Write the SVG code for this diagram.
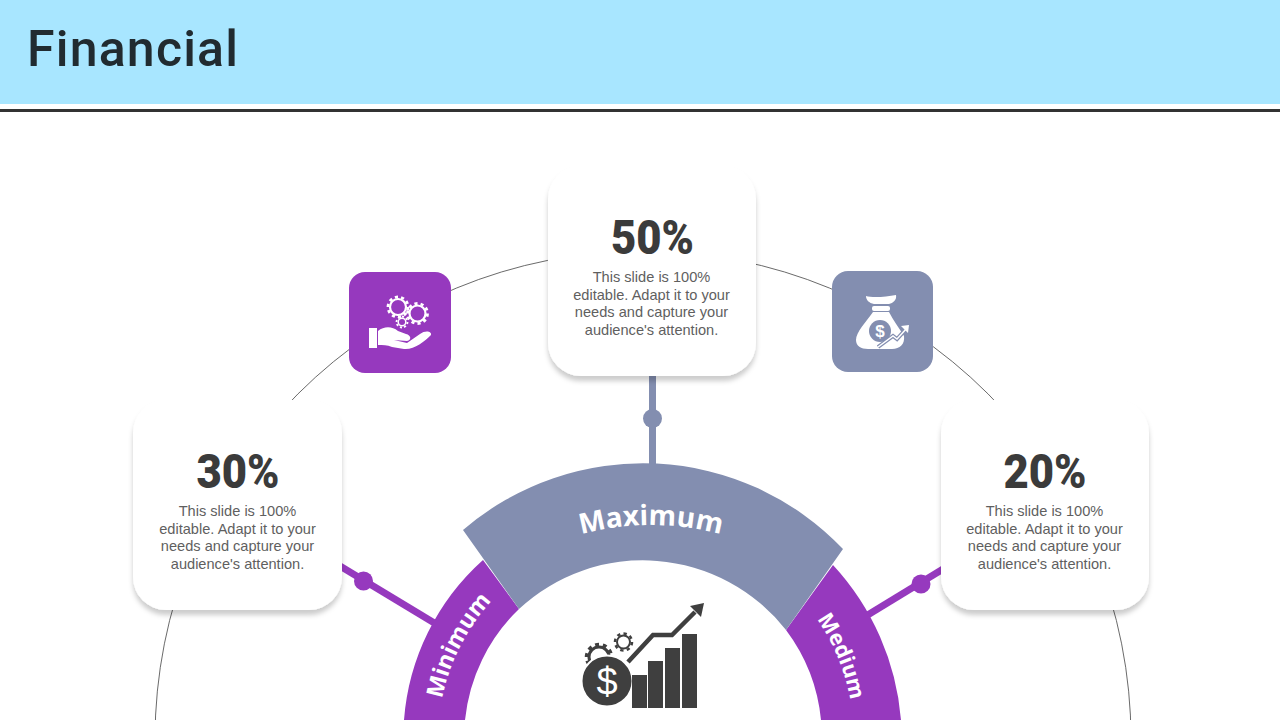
<svg xmlns="http://www.w3.org/2000/svg" width="1280" height="720" viewBox="0 0 1280 720">
<style>
.card{fill:#fff;filter:url(#sh)}
.pct{font-family:Roboto,"Liberation Sans",sans-serif;font-weight:900;font-size:48px;fill:#3b3b3b;text-anchor:middle}
.body{font-family:"Liberation Sans",Arial,sans-serif;font-size:14.6px;fill:#5f5f5f;text-anchor:middle}
.lab{font-family:"Open Sans","Noto Sans",sans-serif;font-weight:700;fill:#fff;text-anchor:middle}
.pur{fill:#9639BE}.gry{fill:#838EB0}
.gw{fill:none;stroke:#fff}.gd{fill:none;stroke:#3f3f3f}
</style>
<defs>
<filter id="sh" x="-15%" y="-15%" width="130%" height="130%"><feDropShadow dx="0" dy="5" stdDeviation="2.500" flood-color="#000" flood-opacity="0.2"/></filter>
<path id="pMax" d="M520 559A270 270 0 0 1 782 559"/>
<path id="pMin" d="M438.800 721.200A204 204 0 0 1 508.200 585"/>
<path id="pMed" d="M792 589A212 212 0 0 1 854 739"/>
</defs>
<g id="header">
<rect x="0" y="0" width="1280" height="104" fill="#A8E6FF"/>
<rect x="0" y="109" width="1280" height="3" fill="#333"/>
<text x="27" y="66" font-family="Roboto,sans-serif" font-size="50" font-weight="500" fill="#212B30" textLength="211" lengthAdjust="spacing">Financial</text>
</g>
<g id="connectors">
<circle cx="643" cy="739" r="488" fill="none" stroke="#444" stroke-width="0.8"/>
<path d="M652.500 370V470" stroke="#838EB0" stroke-width="7" fill="none"/>
<circle cx="652.500" cy="418.500" r="9.500" class="gry"/>
<path d="M335 563L436 624" stroke="#9639BE" stroke-width="7" fill="none"/>
<circle cx="363.500" cy="581" r="9.500" class="pur"/>
<path d="M866 616L948 566" stroke="#9639BE" stroke-width="7" fill="none"/>
<circle cx="921" cy="584" r="9.500" class="pur"/>
</g>
<g id="seg-minimum">
<path class="pur" d="M404 720A239 239 0 0 1 483 560L519 609A179 179 0 0 0 465 720Z"/>
<text class="lab" font-size="23"><textPath href="#pMin" startOffset="50%">Minimum</textPath></text>
</g>
<g id="seg-medium">
<path class="pur" d="M821 720A179 179 0 0 0 786 630L833 565A259 259 0 0 1 901 720Z"/>
<text class="lab" font-size="21.500"><textPath href="#pMed" startOffset="50%">Medium</textPath></text>
</g>
<g id="seg-maximum">
<path class="gry" d="M463 530A276 276 0 0 1 843 549L786 630A182 182 0 0 0 519 609Z"/>
<text class="lab" font-size="28"><textPath href="#pMax" startOffset="50%">Maximum</textPath></text>
</g>
<g id="card-50">
<rect class="card" x="548" y="166" width="208" height="210" rx="33"/>
<text class="pct" x="652.500" y="254" textLength="83" lengthAdjust="spacingAndGlyphs">50%</text>
<text class="body" x="651.500" y="282">This slide is 100%</text>
<text class="body" x="651.500" y="300">editable. Adapt it to your</text>
<text class="body" x="651.500" y="317">needs and capture your</text>
<text class="body" x="651.500" y="335">audience's attention.</text>
</g>
<g id="card-30">
<rect class="card" x="133" y="400" width="209" height="210" rx="33"/>
<text class="pct" x="238" y="488" textLength="83" lengthAdjust="spacingAndGlyphs">30%</text>
<text class="body" x="237.500" y="516">This slide is 100%</text>
<text class="body" x="237.500" y="534">editable. Adapt it to your</text>
<text class="body" x="237.500" y="551">needs and capture your</text>
<text class="body" x="237.500" y="569">audience's attention.</text>
</g>
<g id="card-20">
<rect class="card" x="941" y="400" width="208" height="210" rx="33"/>
<text class="pct" x="1045" y="488" textLength="83" lengthAdjust="spacingAndGlyphs">20%</text>
<text class="body" x="1044.500" y="516">This slide is 100%</text>
<text class="body" x="1044.500" y="534">editable. Adapt it to your</text>
<text class="body" x="1044.500" y="551">needs and capture your</text>
<text class="body" x="1044.500" y="569">audience's attention.</text>
</g>
<g id="icon-gears">
<rect class="pur" x="349" y="272" width="102" height="101" rx="16"/>
<circle class="gw" cx="398" cy="307" r="8" stroke-width="2.200"/>
<circle class="gw" cx="398" cy="307" r="10" stroke-width="2.800" pathLength="20" stroke-dasharray="1 1"/>
<circle class="gw" cx="417.500" cy="313.500" r="8" stroke-width="2.200"/>
<circle class="gw" cx="417.500" cy="313.500" r="10" stroke-width="2.800" pathLength="20" stroke-dasharray="1 1"/>
<circle class="gw" cx="402" cy="322" r="3.800" stroke-width="1.500"/>
<circle class="gw" cx="402" cy="322" r="5.500" stroke-width="1.800" pathLength="16" stroke-dasharray="1 1"/>
<rect x="369" y="328" width="8" height="20" fill="#fff"/>
<path fill="#fff" d="M378 331C384 326 392 326 398 331L406 334C411 335 412 340 407 341L394 340L407 343L420 334C425 330 432 331 431 335C424 342 414 350 404 349L392 347C387 345 383 345 378 345Z"/>
</g>
<g id="icon-bag">
<rect class="gry" x="832" y="271" width="101" height="101" rx="16"/>
<path fill="#fff" d="M866 296C872 298 886 297 896 295C897 300 893 303 889 304L874 304C869 303 866 300 866 296Z"/>
<rect x="872" y="306" width="18" height="5" rx="2" fill="#fff"/>
<path fill="#fff" d="M873 312L889 312C893 320 899 328 904 336C905 344 900 349 892 349L868 349C861 349 856 346 856 340C856 332 866 322 873 312Z"/>
<circle class="gry" cx="880" cy="331" r="11"/>
<text x="880" y="337" font-family="Liberation Sans,sans-serif" font-weight="700" font-size="17" fill="#fff" text-anchor="middle">$</text>
<path d="M878 347L893 336L897 339L907 328" fill="none" stroke="#838EB0" stroke-width="4"/>
<path d="M878 347L893 336L897 339L907 328" fill="none" stroke="#fff" stroke-width="1.500"/>
<path fill="#fff" d="M901 326L909 325L908 333Z"/>
</g>
<g id="icon-chart">
<circle class="gd" cx="599" cy="657" r="10" stroke-width="3"/>
<circle class="gd" cx="599" cy="657" r="12.500" stroke-width="3.500" pathLength="20" stroke-dasharray="1 1"/>
<circle class="gd" cx="623.500" cy="642" r="6.500" stroke-width="2"/>
<circle class="gd" cx="623.500" cy="642" r="8.500" stroke-width="2.500" pathLength="16" stroke-dasharray="1 1"/>
<circle cx="607" cy="681" r="25.500" fill="#3f3f3f" stroke="#fff" stroke-width="2"/>
<text x="607" y="695" font-family="Liberation Sans,sans-serif" font-size="38" fill="#fff" text-anchor="middle">$</text>
<path d="M628 662L653 635H672L695 612" fill="none" stroke="#3f3f3f" stroke-width="4.500"/>
<path fill="#3f3f3f" d="M690 606L704 603L701 617Z"/>
<rect x="632" y="675" width="15" height="33" fill="#3f3f3f"/>
<rect x="648" y="661" width="15" height="47" fill="#3f3f3f"/>
<rect x="665" y="648" width="15" height="60" fill="#3f3f3f"/>
<rect x="682" y="634" width="15" height="74" fill="#3f3f3f"/>
</g>
</svg>
